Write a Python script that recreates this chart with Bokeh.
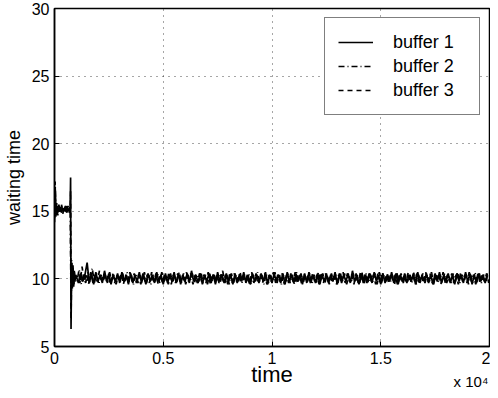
from bokeh.plotting import figure
from bokeh.models import FixedTicker, Legend, LegendItem, LinearAxis
from bokeh.embed import file_html
from bokeh.resources import INLINE

# ---- data ----
x_ticks = [0, 5000, 10000, 15000, 20000]
x_tick_labels = ["0", "0.5", "1", "1.5", "2"]
y_ticks = [5, 10, 15, 20, 25, 30]

# start-up transient (time units)
t_start = [0, 30, 60, 100, 150, 200, 260, 320, 380, 440, 500, 560,
           620, 680, 720, 740, 760, 790, 820, 850, 880, 910, 940, 970]

b1_start = [14.2, 16.8, 15.6, 14.8, 15.4, 15.0, 15.3, 14.9, 15.2, 15.0, 15.4, 14.9,
            15.2, 15.1, 15.0, 17.5, 6.3, 11.2, 9.3, 11.0, 9.6, 10.6, 9.8, 10.3]
b2_start = [15.0, 17.2, 14.6, 15.3, 14.7, 15.5, 14.9, 15.4, 14.8, 15.3, 14.9, 15.5,
            15.0, 15.2, 15.4, 12.0, 8.0, 11.4, 9.5, 10.8, 9.6, 10.5, 9.9, 10.2]
b3_start = [14.5, 16.0, 15.1, 15.6, 14.9, 15.2, 15.0, 15.5, 15.0, 15.1, 15.3, 15.0,
            15.4, 14.9, 15.1, 16.5, 7.0, 10.9, 9.7, 10.7, 9.4, 10.4, 10.0, 10.2]

# steady state, one value every 100 time units
step = 100
b1_t0, b2_t0, b3_t0 = 1000, 1033, 1067
b1_steady = [
    10.2, 9.7, 10.4, 9.8, 10.3, 11.2, 9.7, 10.4, 9.6, 10.5, 9.8, 10.3, 9.7, 10.6, 9.8, 10.4, 9.6, 10.3, 9.8,
    10.4, 9.7, 10.5, 9.8, 10.3, 9.6, 10.4, 9.7, 10.3, 9.8, 10.5, 9.7, 10.3, 9.6, 10.4, 9.8, 10.3, 9.7, 10.5,
    9.8, 10.3, 9.6, 10.4, 9.7, 10.3, 9.8, 10.5, 9.7, 10.4, 9.6, 10.3, 9.8, 10.4, 9.7, 10.6, 9.8, 10.3, 9.7,
    10.4, 9.6, 10.3, 9.8, 10.4, 9.7, 10.3, 9.6, 10.5, 9.8, 10.3, 9.7, 10.4, 9.8, 10.3, 9.6, 10.4, 9.7, 10.3,
    9.8, 10.5, 9.7, 10.3, 9.6, 10.4, 9.8, 10.3, 9.7, 10.4, 9.8, 10.5, 9.6, 10.3, 9.7, 10.4, 9.8, 10.3, 9.7,
    10.4, 9.6, 10.5, 9.8, 10.3, 9.7, 10.4, 9.8, 10.3, 9.6, 10.4, 9.7, 10.5, 9.8, 10.3, 9.7, 10.4, 9.6, 10.3,
    9.8, 10.4, 9.7, 10.3, 9.8, 10.5, 9.6, 10.4, 9.7, 10.3, 9.8, 10.4, 9.7, 10.6, 9.8, 10.3, 9.6, 10.4, 9.7,
    10.3, 9.8, 10.4, 9.7, 10.5, 9.8, 10.3, 9.6, 10.4, 9.7, 10.3, 9.8, 10.5, 9.7, 10.4, 9.6, 10.3, 9.8, 10.4,
    9.7, 10.3, 9.8, 10.4, 9.6, 10.5, 9.7, 10.3, 9.8, 10.4, 9.7, 10.3, 9.6, 10.4, 9.8, 10.5, 9.7, 10.3, 9.8,
    10.4, 9.7, 10.3, 9.6, 10.4, 9.8, 10.3, 9.7, 10.5, 9.8, 10.4, 9.6, 10.3, 9.7, 10.4, 9.8, 10.3, 9.7, 10.4]
b2_steady = [
    9.8, 10.7, 9.6, 10.3, 9.7, 10.5, 9.8, 10.8, 9.7, 10.4, 9.6, 10.3, 9.8, 10.4, 9.7, 10.5, 9.8, 10.3, 9.6,
    10.3, 9.8, 10.4, 9.7, 10.5, 9.8, 10.3, 9.6, 10.4, 9.7, 10.3, 9.8, 10.5, 9.7, 10.4, 9.6, 10.3, 9.8, 10.4,
    9.7, 10.5, 9.8, 10.3, 9.6, 10.4, 9.7, 10.3, 9.8, 10.5, 9.7, 10.4, 9.6, 10.3, 9.8, 10.4, 9.7, 10.3, 9.8,
    10.5, 9.7, 10.3, 9.6, 10.4, 9.8, 10.3, 9.7, 10.4, 9.8, 10.6, 9.7, 10.3, 9.6, 10.4, 9.7, 10.3, 9.8, 10.5,
    9.7, 10.3, 9.8, 10.4, 9.6, 10.3, 9.7, 10.5, 9.8, 10.3, 9.6, 10.4, 9.7, 10.3, 9.8, 10.5, 9.7, 10.4, 9.6,
    10.3, 9.8, 10.4, 9.7, 10.3, 9.6, 10.5, 9.8, 10.4, 9.7, 10.3, 9.8, 10.4, 9.6, 10.3, 9.7, 10.5, 9.8, 10.4,
    9.7, 10.3, 9.6, 10.4, 9.8, 10.3, 9.7, 10.5, 9.8, 10.4, 9.6, 10.3, 9.7, 10.4, 9.8, 10.3, 9.7, 10.5, 9.6,
    10.4, 9.7, 10.3, 9.8, 10.4, 9.6, 10.5, 9.7, 10.3, 9.8, 10.4, 9.7, 10.3, 9.6, 10.5, 9.8, 10.4, 9.7, 10.3,
    9.8, 10.4, 9.7, 10.5, 9.6, 10.3, 9.8, 10.4, 9.7, 10.3, 9.8, 10.5, 9.6, 10.4, 9.7, 10.3, 9.8, 10.4, 9.7,
    10.3, 9.6, 10.4, 9.8, 10.5, 9.7, 10.3, 9.8, 10.4, 9.6, 10.3, 9.7, 10.5, 9.8, 10.4, 9.7, 10.3, 9.8, 10.4]
b3_steady = [
    10.1, 9.7, 10.9, 9.8, 10.4, 9.6, 10.5, 9.7, 10.3, 9.8, 10.6, 9.7, 10.4, 9.8, 10.3, 9.6, 10.4, 9.7, 10.3,
    9.8, 10.4, 9.6, 10.3, 9.7, 10.5, 9.8, 10.4, 9.7, 10.3, 9.6, 10.4, 9.8, 10.3, 9.7, 10.5, 9.8, 10.4, 9.6,
    10.3, 9.7, 10.4, 9.8, 10.5, 9.6, 10.3, 9.7, 10.4, 9.8, 10.3, 9.7, 10.5, 9.8, 10.4, 9.6, 10.3, 9.7, 10.4,
    9.8, 10.3, 9.7, 10.5, 9.6, 10.4, 9.8, 10.3, 9.7, 10.4, 9.8, 10.3, 9.6, 10.5, 9.7, 10.4, 9.8, 10.3, 9.7,
    10.4, 9.8, 10.3, 9.6, 10.5, 9.7, 10.4, 9.8, 10.3, 9.7, 10.4, 9.6, 10.3, 9.8, 10.5, 9.7, 10.3, 9.8, 10.4,
    9.6, 10.3, 9.7, 10.4, 9.8, 10.5, 9.7, 10.3, 9.6, 10.4, 9.8, 10.3, 9.7, 10.4, 9.8, 10.3, 9.6, 10.5, 9.7,
    10.4, 9.8, 10.3, 9.7, 10.4, 9.6, 10.3, 9.8, 10.5, 9.7, 10.4, 9.8, 10.3, 9.6, 10.4, 9.7, 10.5, 9.8, 10.3,
    9.7, 10.4, 9.8, 10.3, 9.6, 10.4, 9.7, 10.5, 9.8, 10.3, 9.7, 10.4, 9.8, 10.3, 9.6, 10.4, 9.7, 10.3, 9.8,
    10.5, 9.7, 10.3, 9.8, 10.4, 9.6, 10.3, 9.7, 10.5, 9.8, 10.4, 9.7, 10.3, 9.8, 10.4, 9.6, 10.5, 9.7, 10.3,
    9.8, 10.4, 9.7, 10.3, 9.6, 10.4, 9.8, 10.3, 9.7, 10.5, 9.8, 10.3, 9.6, 10.4, 9.7, 10.3, 9.8, 10.4, 9.7]

series_names = ["buffer 1", "buffer 2", "buffer 3"]
x_title = "time"
y_title = "waiting time"
exponent_text = "x 10\u2074"
exponent_at = 19150   # where the "x 10^4" note is centred along the x axis

# ---- build the series ----
def steady_times(t0, vals):
    return [t0 + step * i for i in range(len(vals))]

b1_t = t_start + steady_times(b1_t0, b1_steady)
b2_t = t_start + steady_times(b2_t0, b2_steady)
b3_t = t_start + steady_times(b3_t0, b3_steady)
b1_y = b1_start + b1_steady
b2_y = b2_start + b2_steady
b3_y = b3_start + b3_steady

FONT = "Liberation Sans"

p = figure(width=490, height=392, x_range=(0, 20000), y_range=(5, 30),
           output_backend="svg", toolbar_location=None,
           min_border_left=53, min_border_right=1, min_border_top=8,
           min_border_bottom=0)
p.background_fill_color = "white"
p.border_fill_color = "white"
p.outline_line_color = "black"
p.outline_line_width = 1.5
p.outline_line_alpha = 1.0

r3 = p.line(b3_t, b3_y, line_color="black", line_width=1.7, line_dash="5 4")
r2 = p.line(b2_t, b2_y, line_color="black", line_width=1.7, line_dash="6 3 1 3")
r1 = p.line(b1_t, b1_y, line_color="black", line_width=1.7)

# axes
p.xaxis.ticker = FixedTicker(ticks=x_ticks)
p.xaxis.major_label_overrides = {t: l for t, l in zip(x_ticks, x_tick_labels)}
p.yaxis.ticker = FixedTicker(ticks=y_ticks)
for ax in (p.xaxis, p.yaxis):
    ax.major_tick_in = 5
    ax.major_tick_out = 0
    ax.minor_tick_in = 0
    ax.minor_tick_out = 0
    ax.axis_line_width = 1.5
    ax.axis_line_color = "black"
    ax.major_tick_line_color = "black"
    ax.major_label_text_font = FONT
    ax.major_label_text_font_size = "16px"
    ax.major_label_text_color = "black"
    ax.axis_label_text_font = FONT
    ax.axis_label_text_font_style = "normal"
    ax.axis_label_text_color = "black"
    ax.major_label_standoff = 5

p.xaxis.axis_label = x_title
p.xaxis.axis_label_text_font_size = "22px"
p.xaxis.axis_label_standoff = -5
p.yaxis.axis_label = y_title
p.yaxis.axis_label_text_font_size = "18px"
p.yaxis.axis_label_standoff = 5

# "x 10^4" exponent note: a second, line-less x axis whose one label sits
# under the right end of the main axis
exp_axis = LinearAxis(ticker=FixedTicker(ticks=[exponent_at]),
                      major_label_overrides={exponent_at: exponent_text})
exp_axis.axis_line_color = None
exp_axis.major_tick_line_color = None
exp_axis.minor_tick_line_color = None
exp_axis.major_label_text_font = FONT
exp_axis.major_label_text_font_size = "15px"
exp_axis.major_label_text_color = "black"
exp_axis.major_label_standoff = -23
p.add_layout(exp_axis, "below")

# grid
p.grid.grid_line_color = "black"
p.grid.grid_line_alpha = 0.7
p.grid.grid_line_dash = "1 5"
p.grid.grid_line_width = 1
p.xgrid.ticker = FixedTicker(ticks=x_ticks)
p.ygrid.ticker = FixedTicker(ticks=y_ticks)

legend = Legend(items=[LegendItem(label=series_names[0], renderers=[r1]),
                       LegendItem(label=series_names[1], renderers=[r2]),
                       LegendItem(label=series_names[2], renderers=[r3])],
                location="top_right")
legend.margin = 9
legend.padding = 13
legend.spacing = 2
legend.glyph_width = 35
legend.glyph_height = 22
legend.label_height = 22
legend.label_width = 73
legend.label_standoff = 20
legend.label_text_font = FONT
legend.label_text_font_size = "18px"
legend.label_text_color = "black"
legend.border_line_color = "black"
legend.border_line_width = 1.2
legend.background_fill_alpha = 1.0
p.add_layout(legend)

open("out.html", "w").write(file_html(p, INLINE))
